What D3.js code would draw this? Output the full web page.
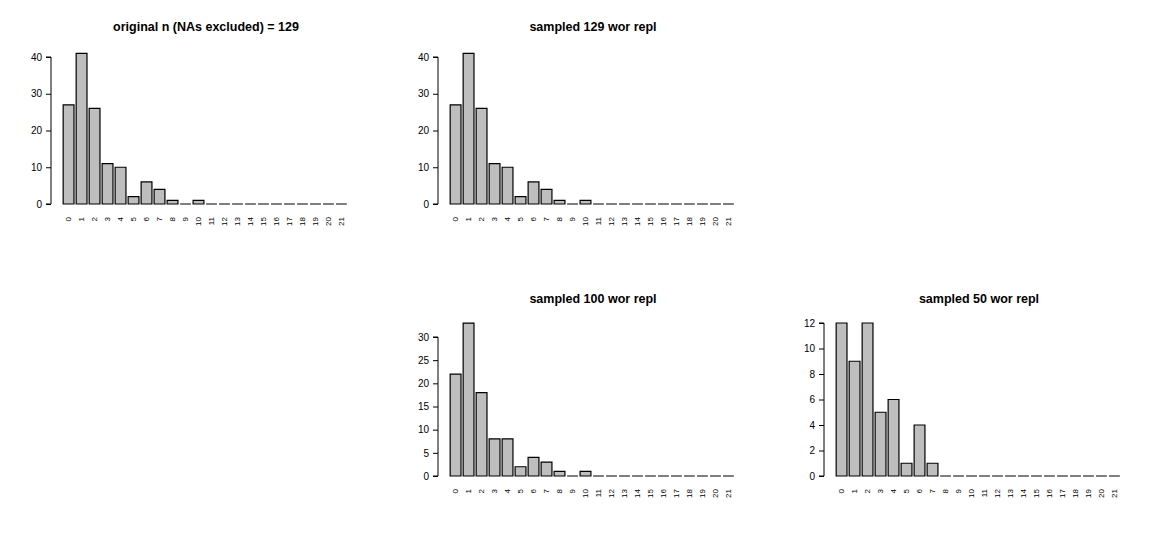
<!DOCTYPE html>
<html><head><meta charset="utf-8">
<script src="https://cdn.jsdelivr.net/npm/d3@7"></script>
<style>body{margin:0;background:#fff}</style>
</head><body>
<div id="chart-area"></div>
<script>
const categories = d3.range(0, 22).map(String);
const origValues = [27, 41, 26, 11, 10, 2, 6, 4, 1, 0, 1, 0, 0, 0, 0, 0, 0, 0, 0, 0, 0, 0];
const sampled129 = [27, 41, 26, 11, 10, 2, 6, 4, 1, 0, 1, 0, 0, 0, 0, 0, 0, 0, 0, 0, 0, 0];
const sampled100 = [22, 33, 18, 8, 8, 2, 4, 3, 1, 0, 1, 0, 0, 0, 0, 0, 0, 0, 0, 0, 0, 0];
const sampled50 = [12, 9, 12, 5, 6, 1, 4, 1, 0, 0, 0, 0, 0, 0, 0, 0, 0, 0, 0, 0, 0, 0];
const titles = ["original n (NAs excluded) = 129", "sampled 129 wor repl", "sampled 100 wor repl", "sampled 50 wor repl"];
const yTicks = [[0, 10, 20, 30, 40], [0, 10, 20, 30, 40], [0, 5, 10, 15, 20, 25, 30], [0, 2, 4, 6, 8, 10, 12]];

// panel layout: left = position of y axis, base = pixel of 0, top = pixel of max tick
const panels = [
  { values: origValues, left: 51, base: 204, top: 57, titleY: 31 },
  { values: sampled129, left: 438, base: 204, top: 57, titleY: 31 },
  { values: sampled100, left: 438, base: 476, top: 337, titleY: 303 },
  { values: sampled50, left: 824, base: 476, top: 323, titleY: 303 }
];

const svg = d3.select("#chart-area").append("svg")
  .attr("width", 1161).attr("height", 542)
  .style("font-family", "Arial, 'Liberation Sans', sans-serif");

panels.forEach((p, i) => {
  const ticks = yTicks[i];
  const y = d3.scaleLinear().domain([0, d3.max(ticks)]).range([p.base, p.top]);
  // R barplot: width 1, space 0.2
  const x = d3.scaleLinear().domain([0, 26.6]).range([p.left + 10, p.left + 10 + 288]);
  const g = svg.append("g");

  g.append("text")
    .attr("x", p.left + 155).attr("y", p.titleY)
    .attr("text-anchor", "middle")
    .style("font-weight", "bold").style("font-size", "12.5px")
    .text(titles[i]);

  const yAxis = d3.axisLeft(y).tickValues(ticks).tickSize(5).tickPadding(4);
  g.append("g").attr("transform", `translate(${p.left},0)`).call(yAxis)
    .call(a => a.selectAll("text").style("font-size", "10px").style("font-family", "Arial, sans-serif"))
    .call(a => a.select(".domain").attr("d", `M-5,${y(0)}H0V${y(d3.max(ticks))}H-5`));

  // bars as closed paths so zero-height bars still show as a line
  g.selectAll("path.bar").data(p.values).join("path")
    .attr("class", "bar")
    .attr("d", (d, j) => {
      const x0 = x(0.2 + 1.2 * j), x1 = x(1.2 + 1.2 * j);
      return `M${x0},${y(0)}H${x1}V${y(d)}H${x0}Z`;
    })
    .attr("fill", "#bebebe").attr("stroke", "#000").attr("stroke-width", 1.2);

  g.selectAll("text.cat").data(categories).join("text")
    .attr("class", "cat")
    .attr("transform", (d, j) => `translate(${x(0.7 + 1.2 * j) + 2.5},${p.base + 13}) rotate(-90)`)
    .attr("text-anchor", "end")
    .style("font-size", "8px")
    .text(d => d);
});
</script>
</body></html>
